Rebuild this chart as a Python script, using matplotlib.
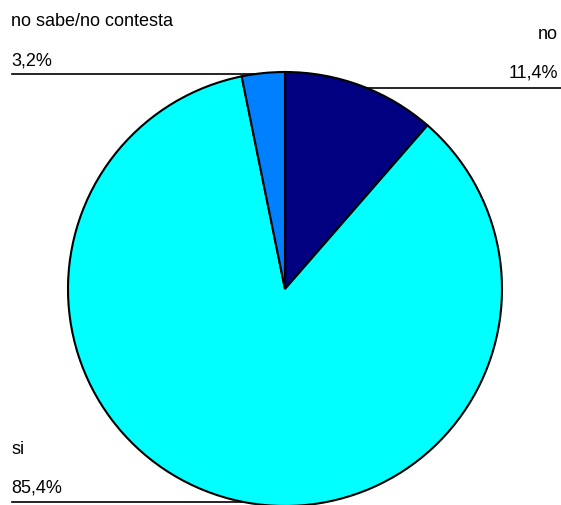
import numpy as np
import matplotlib
matplotlib.use("Agg")
import matplotlib.pyplot as plt

plt.rcParams['font.family'] = ['Liberation Sans', 'DejaVu Sans']

# data
labels = ["no", "si", "no sabe/no contesta"]
values = [11.4, 85.4, 3.2]
pct_text = ["11,4%", "85,4%", "3,2%"]
colors = ["#000080", "#00FFFF", "#0080FF"]

W, H = 561, 506
fig = plt.figure(figsize=(W / 100, H / 100), dpi=100)
ax = fig.add_axes([0, 0, 1, 1])
ax.set_xlim(0, W)
ax.set_ylim(0, H)
ax.set_aspect("equal")
ax.axis("off")

cx, cy, r = 285, H - 290, 217
ax.pie(values, colors=colors, startangle=90, counterclock=False,
       center=(cx, cy), radius=r, frame=True,
       wedgeprops=dict(edgecolor="black", linewidth=1.5))
ax.set_xlim(0, W)
ax.set_ylim(0, H)
ax.axis("off")


def edge_x(y_pix, side):
    dy = (H - y_pix) - cy
    return cx + side * np.sqrt(max(r * r - dy * dy, 0))


fs = 13
# no (right)
ax.text(558, H - 39, labels[0], ha="right", va="baseline", fontsize=fs)
ax.text(558, H - 77, pct_text[0], ha="right", va="baseline", fontsize=fs)
ax.plot([edge_x(89, 1), W], [H - 89, H - 89], color="black", lw=1.2)

# no sabe/no contesta (top left)
ax.text(11, H - 26, labels[2], ha="left", va="baseline", fontsize=fs)
ax.text(11, H - 65, pct_text[2], ha="left", va="baseline", fontsize=fs)
ax.plot([12, edge_x(75, -1)], [H - 75, H - 75], color="black", lw=1.2)

# si (bottom left)
ax.text(11, H - 454, labels[1], ha="left", va="baseline", fontsize=fs)
ax.text(11, H - 493, pct_text[1], ha="left", va="baseline", fontsize=fs)
ax.plot([12, edge_x(503, -1)], [H - 503, H - 503], color="black", lw=1.2)

fig.savefig("out.png", dpi=100)
